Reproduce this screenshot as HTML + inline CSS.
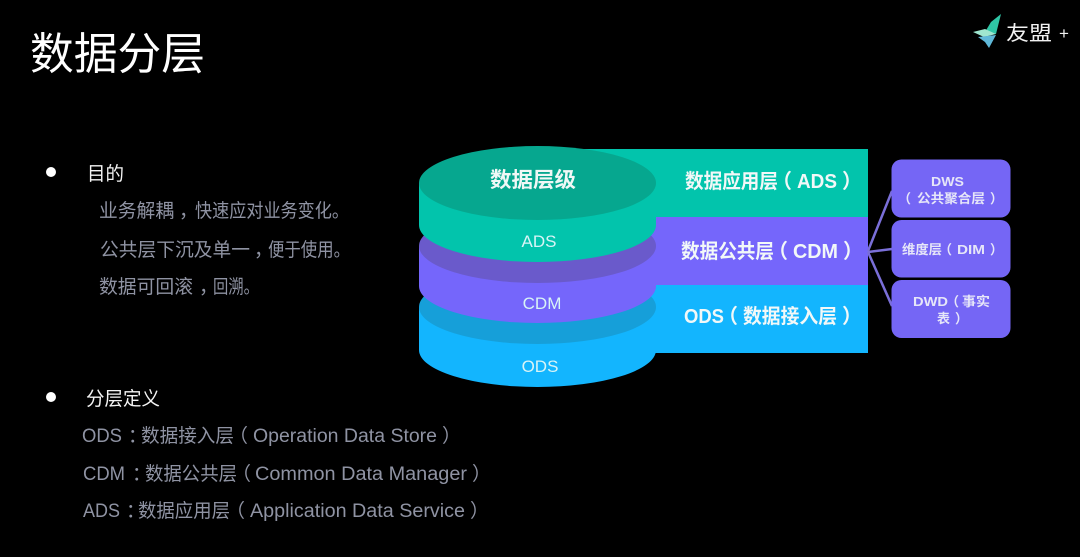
<!DOCTYPE html>
<html lang="zh">
<head>
<meta charset="utf-8">
<title>数据分层</title>
<style>
html,body{margin:0;padding:0;background:#000;width:1080px;height:557px;overflow:hidden}
svg{display:block}
text{font-family:"Liberation Sans","Noto Sans CJK SC",sans-serif}
.g{fill:#8f93a3;font-size:19px}
.w{fill:#f4f4f4;font-size:19px}
.h{fill:#f2f8f8;font-weight:700;font-size:20px}
.l{fill:#d8f4f6;font-size:17px;text-anchor:middle}
.s{fill:#e6e6f8;font-weight:700;font-size:13px}
</style>
</head>
<body>
<svg xmlns="http://www.w3.org/2000/svg" width="1080" height="557" viewBox="0 0 1080 557">
<rect width="1080" height="557" fill="#000"/>

<text x="30" y="69" fill="#fff" font-size="44" textLength="175" lengthAdjust="spacingAndGlyphs">数据分层</text>

<!-- logo -->
<polygon points="1001,14 991,22 985,32 996,34" fill="#2fc6a6"/>
<polygon points="973,32 985,29 996,34 984,37" fill="#9fe6cf"/>
<polygon points="978,37 996,35 989,48 985,42" fill="#5fb8d8"/>
<text x="1006" y="40" fill="#f2f2f2" font-size="20" textLength="46" lengthAdjust="spacingAndGlyphs">友盟</text>
<text x="1059" y="39" fill="#f2f2f2" font-size="17">+</text>

<!-- left text -->
<circle cx="51" cy="172" r="5" fill="#fff"/>
<text class="w" x="87" y="180" textLength="37" lengthAdjust="spacingAndGlyphs">目的</text>

<text class="g" x="99" y="217" textLength="75" lengthAdjust="spacingAndGlyphs">业务解耦</text>
<text class="g" x="179" y="217">，</text>
<text class="g" x="195" y="217" textLength="154" lengthAdjust="spacingAndGlyphs">快速应对业务变化。</text>

<text class="g" x="100" y="256" textLength="150" lengthAdjust="spacingAndGlyphs">公共层下沉及单一</text>
<text class="g" x="254" y="256">，</text>
<text class="g" x="268" y="256" textLength="82" lengthAdjust="spacingAndGlyphs">便于使用。</text>

<text class="g" x="99" y="293" textLength="94" lengthAdjust="spacingAndGlyphs">数据可回滚</text>
<text class="g" x="199" y="293">，</text>
<text class="g" x="213" y="293" textLength="46" lengthAdjust="spacingAndGlyphs">回溯。</text>

<circle cx="51" cy="397" r="5" fill="#fff"/>
<text class="w" x="86" y="405" textLength="74" lengthAdjust="spacingAndGlyphs">分层定义</text>

<text class="g" x="82" y="442" textLength="40" lengthAdjust="spacingAndGlyphs">ODS</text>
<text class="g" x="128" y="442">：</text>
<text class="g" x="141" y="442" textLength="93" lengthAdjust="spacingAndGlyphs">数据接入层</text>
<text class="g" x="229" y="442">（</text>
<text class="g" x="253" y="442" textLength="184" lengthAdjust="spacingAndGlyphs">Operation Data Store</text>
<text class="g" x="442" y="442">）</text>

<text class="g" x="83" y="480" textLength="42" lengthAdjust="spacingAndGlyphs">CDM</text>
<text class="g" x="132" y="480">：</text>
<text class="g" x="145" y="480" textLength="92" lengthAdjust="spacingAndGlyphs">数据公共层</text>
<text class="g" x="232" y="480">（</text>
<text class="g" x="255" y="480" textLength="212" lengthAdjust="spacingAndGlyphs">Common Data Manager</text>
<text class="g" x="472" y="480">）</text>

<text class="g" x="83" y="517" textLength="37" lengthAdjust="spacingAndGlyphs">ADS</text>
<text class="g" x="126" y="517">：</text>
<text class="g" x="138" y="517" textLength="92" lengthAdjust="spacingAndGlyphs">数据应用层</text>
<text class="g" x="226" y="517">（</text>
<text class="g" x="250" y="517" textLength="215" lengthAdjust="spacingAndGlyphs">Application Data Service</text>
<text class="g" x="470" y="517">）</text>

<!-- right bands -->
<rect x="537" y="149" width="331" height="68" fill="#02c4ac"/>
<rect x="537" y="217" width="331" height="68" fill="#7566fb"/>
<rect x="537" y="285" width="331" height="68" fill="#13b5fe"/>

<!-- stacked cylinders -->
<path d="M419,307 V350 A118.5,37 0 0 0 656,350 V307 Z" fill="#13b5fe"/>
<ellipse cx="537.5" cy="307" rx="118.5" ry="37" fill="#169fd9"/>
<path d="M419,246 V286 A118.5,37 0 0 0 656,286 V246 Z" fill="#7566fb"/>
<ellipse cx="537.5" cy="246" rx="118.5" ry="37" fill="#6a5acb"/>
<path d="M419,183 V225 A118.5,37 0 0 0 656,225 V183 Z" fill="#02c4ac"/>
<ellipse cx="537.5" cy="183" rx="118.5" ry="37" fill="#06a78f"/>

<text x="490" y="187" fill="#f0f8f6" font-weight="700" font-size="21" textLength="86" lengthAdjust="spacingAndGlyphs">数据层级</text>
<text class="l" x="539" y="247">ADS</text>
<text class="l" x="542" y="309">CDM</text>
<text class="l" x="540" y="372">ODS</text>

<text class="h" x="685" y="188" textLength="93" lengthAdjust="spacingAndGlyphs">数据应用层</text>
<text class="h" x="772" y="188">（</text>
<text class="h" x="797" y="188" textLength="40" lengthAdjust="spacingAndGlyphs">ADS</text>
<text class="h" x="842" y="188">）</text>

<text class="h" x="681" y="258" textLength="93" lengthAdjust="spacingAndGlyphs">数据公共层</text>
<text class="h" x="768" y="258">（</text>
<text class="h" x="793" y="258" textLength="45" lengthAdjust="spacingAndGlyphs">CDM</text>
<text class="h" x="843" y="258">）</text>

<text class="h" x="684" y="323" textLength="40" lengthAdjust="spacingAndGlyphs">ODS</text>
<text class="h" x="718" y="323">（</text>
<text class="h" x="743" y="323" textLength="94" lengthAdjust="spacingAndGlyphs">数据接入层</text>
<text class="h" x="842" y="323">）</text>

<!-- connectors -->
<g stroke="#7a6fd8" stroke-width="2.5" fill="none">
<line x1="868" y1="251" x2="892" y2="191"/>
<line x1="868" y1="252" x2="892" y2="249"/>
<line x1="868" y1="252" x2="892" y2="306"/>
</g>

<!-- right boxes -->
<rect x="891.5" y="159.5" width="119" height="58" rx="10" fill="#7566f5"/>
<rect x="891.5" y="220" width="119" height="57.5" rx="10" fill="#7566f5"/>
<rect x="891.5" y="280" width="119" height="58" rx="10" fill="#7566f5"/>

<text class="s" x="931" y="186" textLength="33" lengthAdjust="spacingAndGlyphs">DWS</text>
<text class="s" x="898" y="203">（</text>
<text class="s" x="917" y="203" textLength="68" lengthAdjust="spacingAndGlyphs">公共聚合层</text>
<text class="s" x="990" y="203">）</text>

<text class="s" x="902" y="254" textLength="40" lengthAdjust="spacingAndGlyphs">维度层</text>
<text class="s" x="939" y="254">（</text>
<text class="s" x="957" y="254" textLength="28" lengthAdjust="spacingAndGlyphs">DIM</text>
<text class="s" x="990" y="254">）</text>

<text class="s" x="913" y="306" textLength="35" lengthAdjust="spacingAndGlyphs">DWD</text>
<text class="s" x="946" y="306">（</text>
<text class="s" x="962" y="306" textLength="28" lengthAdjust="spacingAndGlyphs">事实</text>
<text class="s" x="937" y="323" textLength="13" lengthAdjust="spacingAndGlyphs">表</text>
<text class="s" x="955" y="323">）</text>
</svg>
</body>
</html>
